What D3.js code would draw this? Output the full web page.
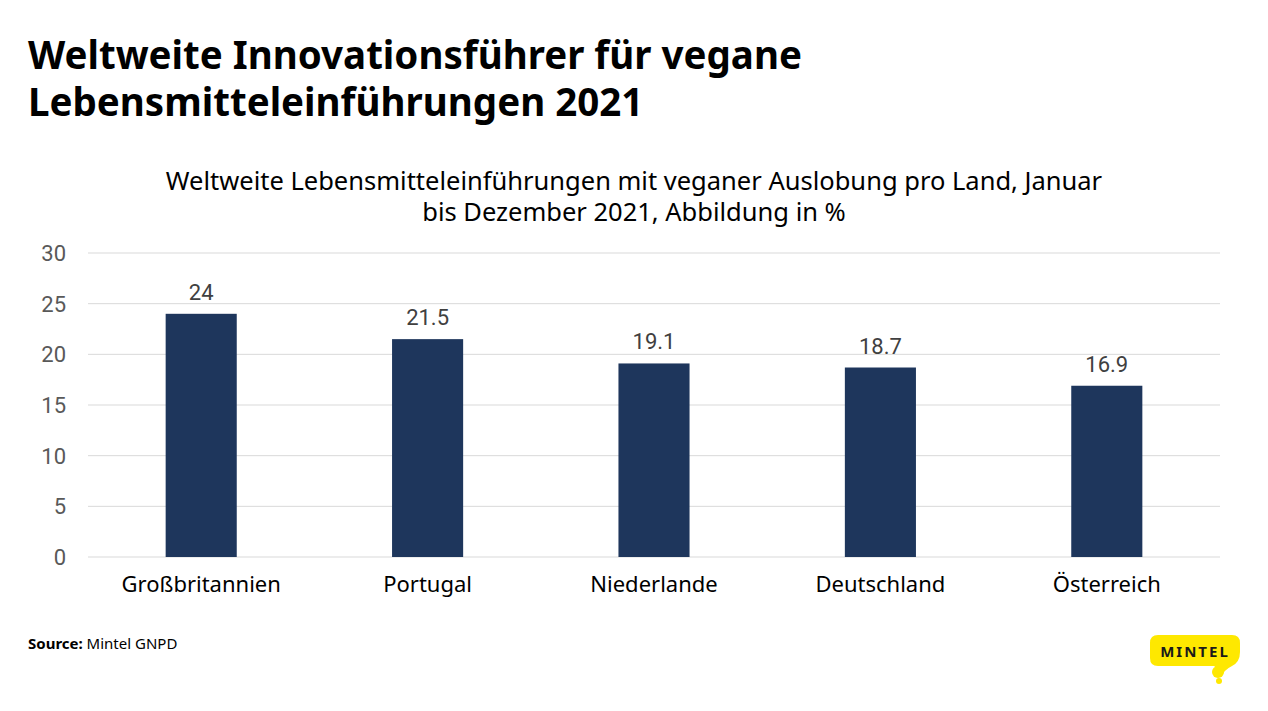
<!DOCTYPE html>
<html><head><meta charset="utf-8">
<script src="https://cdn.jsdelivr.net/npm/d3@7"></script>
<style>body{margin:0;background:#fff}svg{display:block}</style>
</head><body>
<svg id="c" width="1268" height="711"></svg>
<script>
const categories = ["Großbritannien","Portugal","Niederlande","Deutschland","Österreich"];
const values = [24, 21.5, 19.1, 18.7, 16.9];
const valueLabels = ["24","21.5","19.1","18.7","16.9"];
const yTicks = [0,5,10,15,20,25,30];
const titleLines = ["Weltweite Innovationsführer für vegane","Lebensmitteleinführungen 2021"];
const subtitleLines = ["Weltweite Lebensmitteleinführungen mit veganer Auslobung pro Land, Januar","bis Dezember 2021, Abbildung in %"];

const svg = d3.select("#c");
const font = "'Noto Sans', sans-serif";
const x = d3.scaleBand().domain(categories).range([88,1220]).paddingInner(0.686).paddingOuter(0.343);
const y = d3.scaleLinear().domain([0,30]).range([557,253]);

// title
svg.append("g").selectAll("text").data(titleLines).join("text")
  .attr("x",28).attr("y",(d,i)=>69+i*47)
  .attr("font-family",font).attr("font-weight",700).attr("font-size",38.5)
  .attr("fill","#000").text(d=>d);

svg.append("g").selectAll("text").data(subtitleLines).join("text")
  .attr("x",634).attr("y",(d,i)=>190+i*31).attr("text-anchor","middle")
  .attr("font-family",font).attr("font-size",25.5).attr("fill","#000").text(d=>d);

// grid
svg.append("g").selectAll("line").data(yTicks).join("line")
  .attr("x1",88).attr("x2",1220).attr("y1",d=>y(d)).attr("y2",d=>y(d))
  .attr("stroke","#d9d9d9").attr("stroke-width",1);

svg.append("g").selectAll("text").data(yTicks).join("text")
  .attr("x",66).attr("y",d=>y(d)+8).attr("text-anchor","end")
  .attr("font-family","Roboto, sans-serif").attr("font-size",22).attr("fill","#595959").text(d=>d);

// bars
svg.append("g").selectAll("rect").data(values).join("rect")
  .attr("x",(d,i)=>x(categories[i])).attr("width",x.bandwidth())
  .attr("y",d=>y(d)).attr("height",d=>y(0)-y(d)).attr("fill","#1e365c");

svg.append("g").selectAll("text").data(values).join("text")
  .attr("x",(d,i)=>x(categories[i])+x.bandwidth()/2).attr("y",d=>y(d)-14)
  .attr("text-anchor","middle").attr("font-family","Roboto, sans-serif").attr("font-size",22)
  .attr("fill","#404040").text((d,i)=>valueLabels[i]);

svg.append("g").selectAll("text").data(categories).join("text")
  .attr("x",d=>x(d)+x.bandwidth()/2).attr("y",592).attr("text-anchor","middle")
  .attr("font-family",font).attr("font-size",22).attr("fill","#000").text(d=>d);

// source
const src = svg.append("text").attr("x",28).attr("y",649).attr("font-family",font).attr("font-size",15).attr("fill","#000");
src.append("tspan").attr("font-weight",700).text("Source:");
src.append("tspan").text(" Mintel GNPD");

// logo
const lg = svg.append("g");
lg.append("path").attr("d","M1158,635 L1232,635 Q1240,635 1240,643 L1240,652 Q1240,662 1232,666 Q1224,670 1222,676 Q1220,670 1214,666 L1158,666 Q1150,666 1150,658 L1150,643 Q1150,635 1158,635 Z").attr("fill","#fee800");
lg.append("circle").attr("cx",1218).attr("cy",672).attr("r",6).attr("fill","#fee800");
lg.append("circle").attr("cx",1219).attr("cy",681).attr("r",3).attr("fill","#fee800");
lg.append("text").attr("x",1195).attr("y",657).attr("text-anchor","middle")
  .attr("font-family",font).attr("font-weight",700).attr("font-size",15).attr("letter-spacing",2).attr("fill","#1a1a1a").text("MINTEL");
</script>
</body></html>
